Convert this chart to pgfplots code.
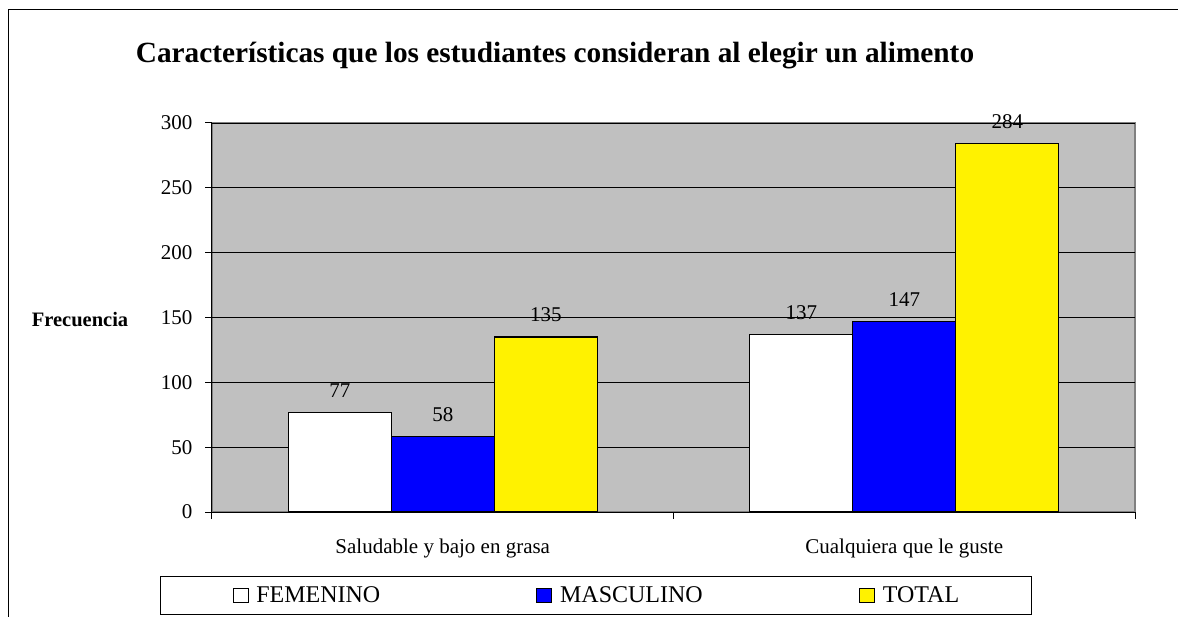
\documentclass[border=0pt]{standalone}
\usepackage{fontspec}
\setmainfont{Liberation Serif}
\usepackage{pgfplots}
\pgfplotsset{compat=1.18}
\definecolor{plotgray}{HTML}{C0C0C0}
\definecolor{edgegray}{HTML}{808080}
\pgfplotsset{sqleg/.style={legend image code/.code={\draw[##1,line width=0.8pt] (0pt,-7pt) rectangle (15pt,7pt);}}}
\begin{document}
\begin{tikzpicture}[x=1pt,y=1pt]
\useasboundingbox (0,0) rectangle (1178,616);
\draw[line width=1pt] (8,-20) -- (8,606) -- (1200,606);
\node[anchor=base,font=\bfseries\fontsize{29.3}{33}\selectfont] at (555,553) {Características que los estudiantes consideran al elegir un alimento};
\begin{axis}[
  at={(212pt,104pt)}, anchor=south west,
  scale only axis, width=923pt, height=389pt,
  ybar=0pt, bar width=103pt,
  xmin=-0.5, xmax=1.5, ymin=0, ymax=300,
  axis x line*=bottom, axis y line*=left,
  axis line style={-, black, line width=1pt},
  axis background/.style={fill=plotgray, draw=edgegray, line width=1.5pt},
  ymajorgrids, grid style={black, line width=0.8pt},
  ytick={0,50,100,150,200,250,300},
  xtick={-0.5,0.5,1.5}, xticklabels={},
  extra x ticks={0,1},
  extra x tick labels={Saludable y bajo en grasa, Cualquiera que le guste},
  extra x tick style={major tick length=0pt, grid=none, xticklabel style={yshift=-23pt}},
  tick align=outside, major tick length=7pt,
  tick style={black, line width=1pt},
  ticklabel style={font=\fontsize{21}{25}\selectfont},
  yticklabel style={xshift=-9pt},
  /pgf/number format/assume math mode=true,
  ylabel={Frecuencia},
  every axis y label/.style={at={(axis description cs:-0.143,0.494)}, anchor=center, font=\bfseries\fontsize{20.5}{24}\selectfont},
  nodes near coords,
  every node near coord/.append style={font=\fontsize{21}{25}\selectfont, black, yshift=11pt},
  legend columns=3,
  legend style={at={(axis description cs:0,0)}, anchor=north west, xshift=-52pt, yshift=-64pt,
    draw=black, line width=1pt, inner xsep=72pt, inner ysep=10.5pt,
    nodes={inner sep=0pt, line width=0.8pt}, font=\fontsize{24}{28}\selectfont,
    /tikz/every odd column/.append style={column sep=8pt}},
]
\addplot[fill=white, draw=black, line width=1.3pt, sqleg] coordinates {(0,77) (1,137)};
\addplot[fill=blue, draw=black, line width=1.3pt, sqleg] coordinates {(0,58) (1,147)};
\addplot[fill=yellow, draw=black, line width=1.3pt, sqleg] coordinates {(0,135) (1,284)};
\legend{\makebox[280pt][l]{FEMENINO}, \makebox[299pt][l]{MASCULINO}, TOTAL}
\end{axis}
\end{tikzpicture}
\end{document}
